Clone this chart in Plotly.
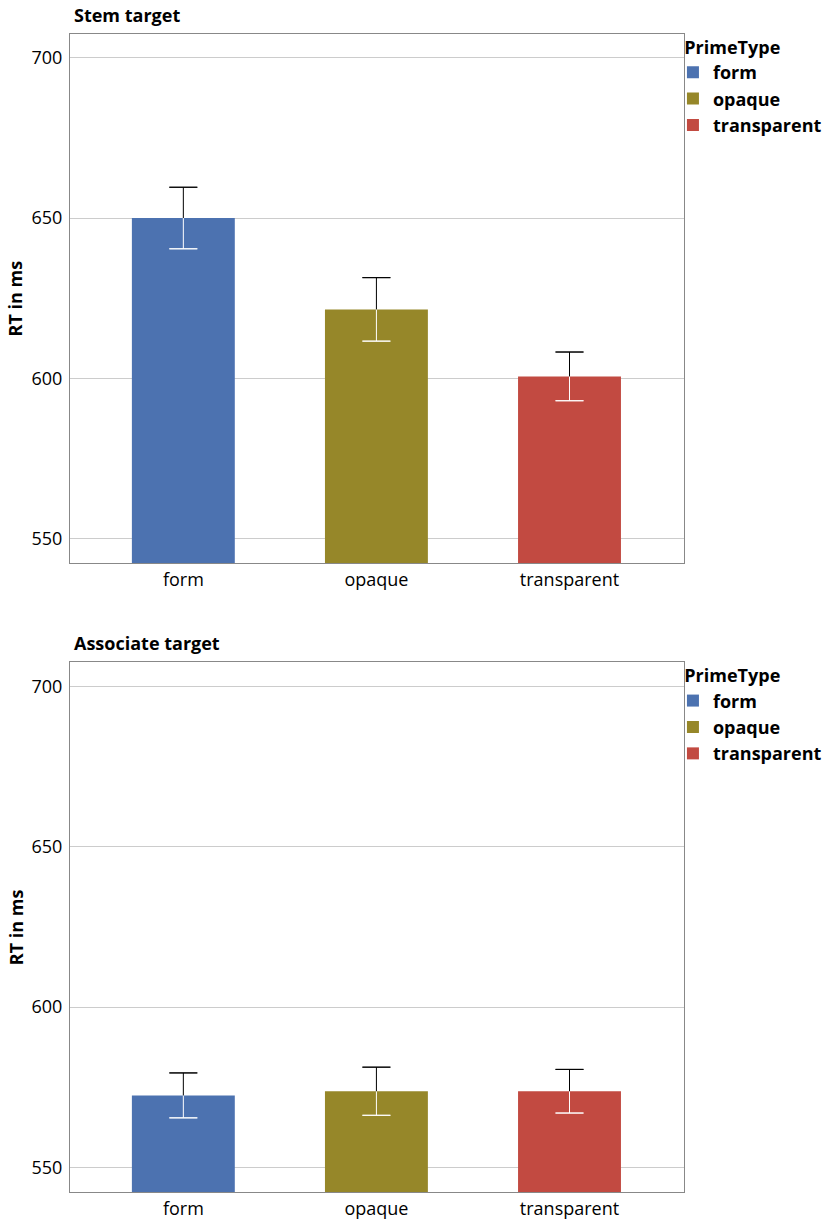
import plotly.graph_objects as go
from plotly.subplots import make_subplots

categories = ["form", "opaque", "transparent"]
colors = ["#4C72B0", "#968729", "#C24A41"]
panel_titles = ["Stem target", "Associate target"]
stem_rt = [650.0, 621.5, 600.6]
stem_err = [9.6, 9.9, 7.6]
assoc_rt = [572.5, 573.8, 573.8]
assoc_err = [7.0, 7.5, 6.8]
y_ticks = [550, 600, 650, 700]

FONT = "Open Sans"
FS = 18
fig = make_subplots(rows=2, cols=1, vertical_spacing=0.086)

panels = [(stem_rt, stem_err), (assoc_rt, assoc_err)]
for p, (rt, err) in enumerate(panels):
    row = p + 1
    leg = "legend" if p == 0 else "legend2"
    for i, cat in enumerate(categories):
        fig.add_trace(go.Bar(x=[cat], y=[rt[i]], name=cat, marker=dict(color=colors[i], line=dict(width=0)),
                             width=0.533, legend=leg, hoverinfo="skip"), row=row, col=1)
    lows = [r - e for r, e in zip(rt, err)]
    highs = [r + e for r, e in zip(rt, err)]
    zeros = [0] * len(rt)
    specs = [
        (rt, zeros, err, "white", 0),
        (lows, zeros, zeros, "white", 14),
        (rt, err, zeros, "black", 0),
        (highs, zeros, zeros, "black", 14),
    ]
    for yv, up, dn, col, w in specs:
        fig.add_trace(go.Scatter(x=categories, y=yv, mode="markers", marker=dict(size=1, opacity=0),
                                 error_y=dict(type="data", symmetric=False, array=up, arrayminus=dn,
                                              color=col, thickness=1, width=w),
                                 showlegend=False, hoverinfo="skip"), row=row, col=1)

axis_common = dict(showline=True, mirror=True, linecolor="#888888", linewidth=1)
for r in (1, 2):
    fig.update_yaxes(range=[542.4, 707.4], tickvals=y_ticks, showgrid=True, gridcolor="#cccccc",
                     gridwidth=1, zeroline=False, ticks="", ticklabelstandoff=3,
                     tickfont=dict(size=FS, color="#000"), **axis_common, row=r, col=1)
    fig.update_xaxes(range=[-0.587, 2.593], showgrid=False, ticks="",
                     tickfont=dict(size=FS, color="#000"), **axis_common, row=r, col=1)

fig.update_yaxes(domain=[0.5432, 1.0], row=1, col=1)
fig.update_yaxes(domain=[0.0, 0.4573], row=2, col=1)

legend_style = dict(x=0.982, xanchor="left", yanchor="top", bgcolor="rgba(0,0,0,0)",
                    title=dict(text="\u00a0\u00a0<b>PrimeType</b>", font=dict(size=FS, family=FONT, color="#000")),
                    font=dict(size=FS, family=FONT, color="#000", weight="bold"),
                    tracegroupgap=0, itemclick=False)
fig.update_layout(legend=dict(y=1.003, **legend_style), legend2=dict(y=0.4603, **legend_style))

annotations = []
for p, (ytop, ymid) in enumerate([(1.0, (0.5432 + 1.0) / 2), (0.4573, 0.4573 / 2)]):
    annotations.append(dict(text="<b>" + panel_titles[p] + "</b>", x=0.003, y=ytop, xref="paper", yref="paper",
                            xanchor="left", yanchor="bottom", yshift=5, showarrow=False,
                            font=dict(size=FS, family=FONT, color="#000")))
    annotations.append(dict(text="<b>RT in ms</b>", x=-0.088, y=ymid, xref="paper", yref="paper",
                            xanchor="center", yanchor="middle", textangle=-90, showarrow=False,
                            font=dict(size=FS, family=FONT, color="#000")))

fig.update_layout(width=827, height=1219, margin=dict(l=70, r=143, t=34, b=27, autoexpand=False),
                  plot_bgcolor="white", paper_bgcolor="white", barmode="overlay",
                  font=dict(family=FONT, color="#000"), annotations=annotations)

fig.write_html("out.html", config={"displayModeBar": False},
               post_script="document.body.style.margin='0';")
